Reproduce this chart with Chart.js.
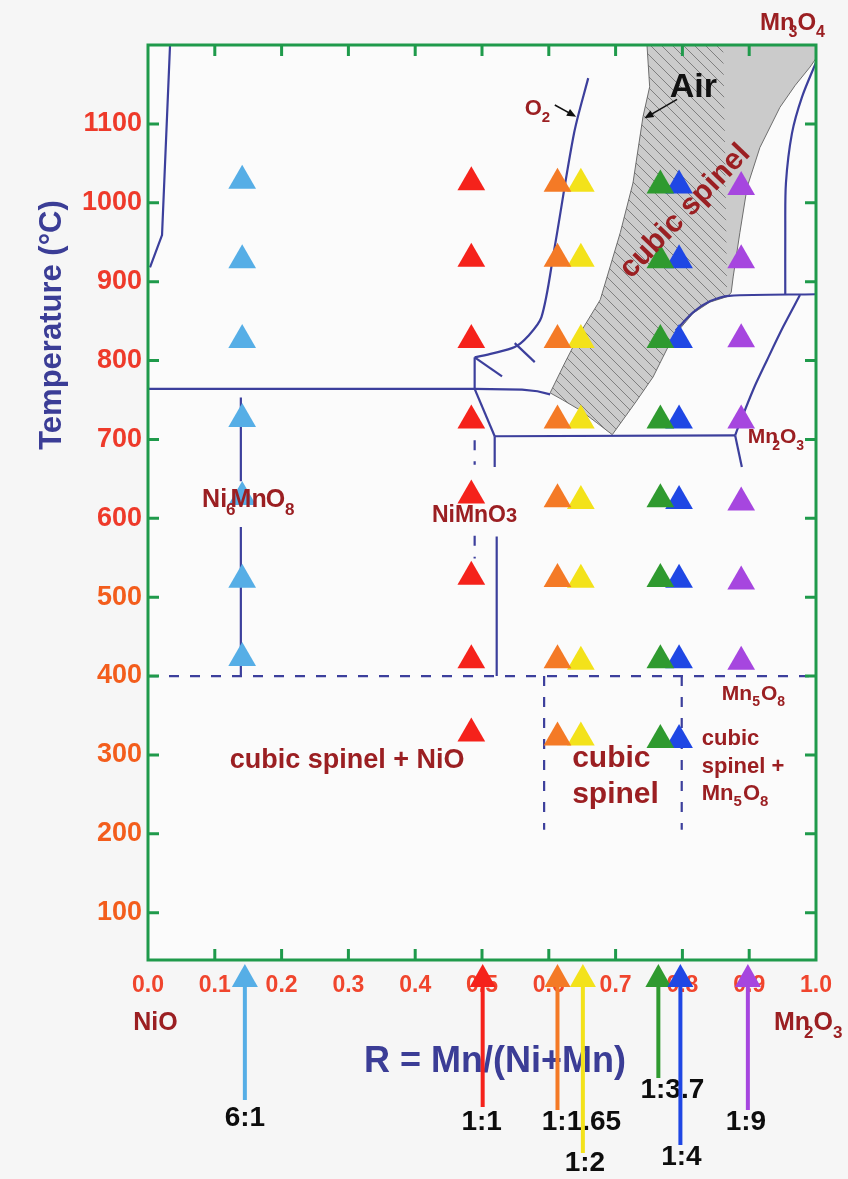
<!DOCTYPE html>
<html>
<head>
<meta charset="utf-8">
<title>Ni-Mn-O phase diagram</title>
<script src="https://cdn.jsdelivr.net/npm/chart.js@4.4.1/dist/chart.umd.min.js"></script>
<style>
  html, body { margin: 0; padding: 0; background: #f6f6f6; }
  canvas { display: block; }
</style>
</head>
<body>
<canvas id="phase" width="848" height="1179"></canvas>
<script>
var FONT = '"Liberation Sans", Arial, Helvetica, sans-serif';
var PHASE = '#3c3f9c';
var DARKRED = '#9b1f22';
var NAVY = '#3b3d96';
var FRAME = '#1f9a4b';

// axis ticks
var xTicks = [0, 0.1, 0.2, 0.3, 0.4, 0.5, 0.6, 0.7, 0.8, 0.9, 1.0];
var yTicks = [100, 200, 300, 400, 500, 600, 700, 800, 900, 1000, 1100];

// samples (Ni:Mn), R of the arrow under the axis, R of the triangles
var sampleNames = ['6:1', '1:1', '1:1.65', '1:2', '1:3.7', '1:4', '1:9'];
var sampleR = [0.145, 0.501, 0.613, 0.651, 0.764, 0.797, 0.898];
var markerR = [0.141, 0.484, 0.613, 0.648, 0.767, 0.795, 0.888];
var sampleColors = ['#56aee6', '#f5221b', '#f47a26', '#f3e21a', '#2f9a2f', '#1f47e4', '#a646df'];

// anneal temperatures (C) for each sample
var temps61   = [1028, 927, 826, 726, 627, 522, 423];
var temps11   = [1026, 929, 826, 724, 629, 526, 420, 327];
var temps1165 = [1024, 929, 826, 724, 624, 523, 420, 322];
var temps12   = [1024, 929, 826, 724, 622, 522, 418, 322];
var temps137  = [1022, 927, 826, 724, 624, 523, 420, 319];
var temps14   = [1022, 927, 826, 724, 622, 522, 420, 319];
var temps19   = [1020, 927, 827, 724, 620, 520, 418];
var sampleTemps = [temps61, temps11, temps1165, temps12, temps137, temps14, temps19];

// phase boundaries, [R, T] pairs
var bNiO       = [[0.003, 918], [0.021, 959], [0.033, 1200]];
var b760       = [[0, 764], [0.489, 764], [0.56, 763], [0.583, 761], [0.602, 757]];
var bStem      = [[0.489, 764], [0.489, 804]];
var bO2        = [[0.489, 804], [0.516, 809], [0.549, 817], [0.568, 830], [0.589, 855], [0.608, 940], [0.638, 1089], [0.659, 1158]];
var bSpur1     = [[0.489, 804], [0.530, 780]];
var bSpur2     = [[0.549, 822], [0.579, 798]];
var bSlope     = [[0.489, 764], [0.519, 704]];
var b700       = [[0.519, 704], [0.879, 705]];
var bNiMnUp    = [[0.519, 704], [0.519, 665]];
var bNiMnLow   = [[0.522, 577], [0.522, 400]];
var bNi6Up     = [[0.139, 753], [0.139, 647]];
var bNi6Low    = [[0.139, 589], [0.139, 400]];
var bSpinelTop = [[0.79, 838], [0.816, 861], [0.841, 875], [0.870, 882], [1.0, 884]];
var bMn3O4     = [[1.0, 1178], [0.979, 1134], [0.964, 1088], [0.955, 1025], [0.954, 962], [0.954, 884]];
var bMn2O3     = [[0.976, 883], [0.951, 843], [0.927, 801], [0.906, 763], [0.882, 712], [0.879, 705]];
var bMn2O3Tail = [[0.879, 705], [0.889, 665]];
// dashed boundaries
var d400     = [[0, 400], [1, 400]];
var dSpinelL = [[0.593, 400], [0.593, 205]];
var dSpinelR = [[0.799, 400], [0.799, 205]];
var dNiMnA   = [[0.489, 699], [0.489, 668]];
var dNiMnB   = [[0.489, 578], [0.489, 549]];

// cubic spinel field in air (grey), hatched part on its left
var spinelRight = [[0.747, 1200], [1.0, 1200], [1.0, 1183], [0.991, 1172], [0.969, 1149], [0.946, 1121], [0.916, 1070], [0.897, 1020], [0.886, 962], [0.876, 906], [0.873, 886], [0.867, 881]];
var spinelLower = [[0.841, 874], [0.816, 860], [0.786, 830], [0.756, 779], [0.729, 746], [0.695, 706], [0.672, 721], [0.647, 737], [0.621, 750], [0.602, 759], [0.624, 797], [0.647, 835], [0.677, 877], [0.707, 962], [0.726, 1025], [0.741, 1109], [0.751, 1147], [0.747, 1200]];
var hatchRight  = [[0.747, 1200], [0.861, 1200], [0.864, 1067], [0.867, 881]];

// small pointer arrows, tail then tip
var o2Arrow  = [[0.609, 1124], [0.641, 1109]];
var airArrow = [[0.792, 1131], [0.743, 1107]];

function xy(pairs) {
  return pairs.map(function (p) { return { x: p[0], y: p[1] }; });
}

function hatchPattern(ctx) {
  var c = document.createElement('canvas');
  c.width = 11; c.height = 11;
  var g = c.getContext('2d');
  g.strokeStyle = '#5e5e5e';
  g.lineWidth = 0.7;
  g.beginPath();
  g.moveTo(0, 0); g.lineTo(11, 11);
  g.moveTo(-2, 9); g.lineTo(2, 13);
  g.moveTo(9, -2); g.lineTo(13, 2);
  g.stroke();
  return ctx.createPattern(c, 'repeat');
}

function boundary(pairs, opts) {
  var ds = {
    type: 'line',
    data: xy(pairs),
    borderColor: PHASE,
    borderWidth: 2.2,
    pointRadius: 0,
    fill: false,
    tension: 0,
    order: 1
  };
  for (var k in opts) ds[k] = opts[k];
  return ds;
}

var ctx = document.getElementById('phase').getContext('2d');

var datasets = [];
// sample triangles on top
sampleTemps.forEach(function (temps, i) {
  datasets.push({
    label: sampleNames[i],
    data: temps.map(function (t) { return { x: markerR[i], y: t }; }),
    pointStyle: 'triangle',
    pointRadius: 16,
    pointBorderWidth: 0,
    backgroundColor: sampleColors[i],
    borderColor: sampleColors[i],
    order: 0
  });
});

[bNiO, b760, bStem, bSpur1, bSpur2, bSlope, b700, bNiMnUp, bNiMnLow,
 bNi6Up, bNi6Low, bMn2O3Tail].forEach(function (b) { datasets.push(boundary(b)); });
[bO2, bSpinelTop, bMn3O4, bMn2O3].forEach(function (b) { datasets.push(boundary(b, { tension: 0.3 })); });
[d400, dSpinelL, dSpinelR, dNiMnA, dNiMnB].forEach(function (b) {
  datasets.push(boundary(b, { borderDash: [10, 11] }));
});

datasets.push({
  type: 'line',
  data: xy(hatchRight.concat(spinelLower)),
  backgroundColor: hatchPattern(ctx),
  borderWidth: 0,
  pointRadius: 0,
  fill: 'shape',
  order: 2
});
datasets.push({
  type: 'line',
  data: xy(spinelRight.concat(spinelLower)),
  backgroundColor: '#cbcbcb',
  borderColor: '#6e6e6e',
  borderWidth: 1,
  pointRadius: 0,
  fill: 'shape',
  order: 3
});

// formula text: runs of [text, kind, dx]; kind 1 = subscript, 2 = small on baseline
function formula(c, runs, x, y, size, color) {
  var sub = Math.round(size * 0.68);
  c.fillStyle = color;
  c.textAlign = 'left';
  c.textBaseline = 'alphabetic';
  var cx = x;
  runs.forEach(function (r) {
    var s = r[1] === 1 ? sub : (r[1] === 2 ? Math.round(size * 0.85) : size);
    c.font = 'bold ' + s + 'px ' + FONT;
    cx += r[2] || 0;
    c.fillText(r[0], cx, r[1] === 1 ? y + size * 0.3 : y);
    cx += c.measureText(r[0]).width;
  });
}

function text(c, str, x, y, size, color, align) {
  c.font = 'bold ' + size + 'px ' + FONT;
  c.fillStyle = color;
  c.textAlign = align || 'left';
  c.textBaseline = 'alphabetic';
  c.fillText(str, x, y);
}

function pointer(c, x0, y0, x1, y1) {
  var ang = Math.atan2(y1 - y0, x1 - x0);
  c.strokeStyle = '#111';
  c.fillStyle = '#111';
  c.lineWidth = 1.6;
  c.beginPath();
  c.moveTo(x0, y0);
  c.lineTo(x1 - Math.cos(ang) * 6, y1 - Math.sin(ang) * 6);
  c.stroke();
  c.beginPath();
  c.moveTo(x1, y1);
  c.lineTo(x1 - Math.cos(ang - 0.4) * 10, y1 - Math.sin(ang - 0.4) * 10);
  c.lineTo(x1 - Math.cos(ang + 0.4) * 10, y1 - Math.sin(ang + 0.4) * 10);
  c.closePath();
  c.fill();
}

// arrow tails and label centres below the axis, px from the plot bottom
var arrowTail = [140, 147, 150, 193, 118, 185, 150];
var labelDy = [158, 162, 162, 203, 130, 197, 162];
var labelDx = [0, -1, 24, 2, 14, 1, -2];

var decor = {
  id: 'decor',
  beforeDraw: function (chart) {
    var c = chart.ctx, a = chart.chartArea;
    c.save();
    c.fillStyle = '#f6f6f6';
    c.fillRect(0, 0, chart.width, chart.height);
    c.fillStyle = '#fbfbfb';
    c.fillRect(a.left, a.top, a.right - a.left, a.bottom - a.top);
    c.restore();
  },
  afterDatasetsDraw: function (chart) {
    var c = chart.ctx, a = chart.chartArea;
    var sx = chart.scales.x, sy = chart.scales.y;
    function X(r) { return sx.getPixelForValue(r); }
    function Y(t) { return sy.getPixelForValue(t); }
    c.save();

    // frame with inward ticks
    c.strokeStyle = FRAME;
    c.lineWidth = 3;
    c.beginPath();
    xTicks.forEach(function (v) {
      if (v <= 0 || v >= 1) return;
      var px = X(v);
      c.moveTo(px, a.top); c.lineTo(px, a.top + 11);
      c.moveTo(px, a.bottom); c.lineTo(px, a.bottom - 11);
    });
    yTicks.forEach(function (v) {
      var py = Y(v);
      c.moveTo(a.left, py); c.lineTo(a.left + 11, py);
      c.moveTo(a.right, py); c.lineTo(a.right - 11, py);
    });
    c.stroke();
    c.strokeRect(a.left, a.top, a.right - a.left, a.bottom - a.top);

    // phase labels
    formula(c, [['Ni', 0], ['6', 1, -1], ['Mn', 0, -5], ['O', 0, -1], ['8', 1]], X(0.081), Y(614), 25, DARKRED);
    formula(c, [['NiMnO', 0], ['3', 2]], X(0.425), Y(595), 23, DARKRED);
    text(c, 'cubic spinel + NiO', X(0.298), Y(283), 27, DARKRED, 'center');
    text(c, 'cubic', X(0.635), Y(285), 30, DARKRED);
    text(c, 'spinel', X(0.635), Y(239), 30, DARKRED);
    text(c, 'cubic', X(0.829), Y(313), 22, DARKRED);
    text(c, 'spinel +', X(0.829), Y(277), 22, DARKRED);
    formula(c, [['Mn', 0], ['5', 1], ['O', 0, 1], ['8', 1]], X(0.829), Y(243), 22, DARKRED);
    formula(c, [['Mn', 0], ['5', 1], ['O', 0, 1], ['8', 1]], X(0.859), Y(370), 21, DARKRED);
    formula(c, [['Mn', 0], ['2', 1, -6], ['O', 0], ['3', 1]], X(0.898), Y(695), 21, DARKRED);
    formula(c, [['O', 0], ['2', 1]], X(0.564), Y(1111), 22, DARKRED);
    formula(c, [['Mn', 0], ['3', 1, -6], ['O', 0], ['4', 1]], X(0.916), Y(1219), 24, DARKRED);
    text(c, 'Air', X(0.781), Y(1134), 34, '#111');

    c.save();
    c.translate(X(0.804), Y(989));
    c.rotate(-46 * Math.PI / 180);
    c.font = 'bold 30px ' + FONT;
    c.fillStyle = DARKRED;
    c.textAlign = 'center';
    c.textBaseline = 'middle';
    c.fillText('cubic spinel', 0, 0);
    c.restore();

    pointer(c, X(o2Arrow[0][0]), Y(o2Arrow[0][1]), X(o2Arrow[1][0]), Y(o2Arrow[1][1]));
    pointer(c, X(airArrow[0][0]), Y(airArrow[0][1]), X(airArrow[1][0]), Y(airArrow[1][1]));

    // end members and axis titles
    text(c, 'NiO', X(-0.022), a.bottom + 70, 25, DARKRED);
    formula(c, [['Mn', 0], ['2', 1, -6], ['O', 0], ['3', 1]], X(0.937), a.bottom + 70, 25, DARKRED);
    text(c, 'R = Mn/(Ni+Mn)', 495, a.bottom + 112, 36, NAVY, 'center');

    c.save();
    c.translate(52, 325);
    c.rotate(-Math.PI / 2);
    c.font = 'bold 31px ' + FONT;
    c.fillStyle = NAVY;
    c.textAlign = 'center';
    c.textBaseline = 'middle';
    c.fillText('Temperature (\u00B0C)', 0, 0);
    c.restore();

    // composition arrows under the axis
    sampleR.forEach(function (r, i) {
      var px = X(r), tip = a.bottom + 4, tail = a.bottom + arrowTail[i];
      c.strokeStyle = sampleColors[i];
      c.fillStyle = sampleColors[i];
      c.lineWidth = 4;
      c.beginPath();
      c.moveTo(px, tail); c.lineTo(px, tip + 18);
      c.stroke();
      c.beginPath();
      c.moveTo(px, tip);
      c.lineTo(px - 13, tip + 23);
      c.lineTo(px + 13, tip + 23);
      c.closePath();
      c.fill();
      c.font = 'bold 28px ' + FONT;
      c.fillStyle = '#0d0d0d';
      c.textAlign = 'center';
      c.textBaseline = 'middle';
      c.fillText(sampleNames[i], px + labelDx[i], a.bottom + labelDy[i]);
    });

    c.restore();
  }
};

new Chart(ctx, {
  type: 'scatter',
  data: { datasets: datasets },
  options: {
    responsive: false,
    animation: false,
    devicePixelRatio: 1,
    events: [],
    layout: { padding: { top: 45, right: 32, left: 0, bottom: 0 } },
    plugins: { legend: { display: false }, tooltip: { enabled: false } },
    scales: {
      x: {
        type: 'linear', min: 0, max: 1,
        grid: { display: false, drawTicks: false },
        border: { display: false },
        afterBuildTicks: function (s) { s.ticks = xTicks.map(function (v) { return { value: v }; }); },
        afterFit: function (s) { s.height = 219; },
        ticks: {
          color: '#f0452d',
          font: { family: FONT, size: 23, weight: 'bold' },
          padding: 12, maxRotation: 0, autoSkip: false,
          callback: function (v) { return v.toFixed(1); }
        }
      },
      y: {
        type: 'linear', min: 40, max: 1200,
        grid: { display: false, drawTicks: false },
        border: { display: false },
        afterBuildTicks: function (s) { s.ticks = yTicks.map(function (v) { return { value: v }; }); },
        afterFit: function (s) { s.width = 148; },
        ticks: {
          color: function (c) { return c.tick && c.tick.value >= 600 ? '#ee3a2a' : '#f35d1c'; },
          font: { family: FONT, size: 27, weight: 'bold' },
          padding: 6,
          callback: function (v) { return String(v); }
        }
      }
    }
  },
  plugins: [decor]
});
</script>
</body>
</html>
